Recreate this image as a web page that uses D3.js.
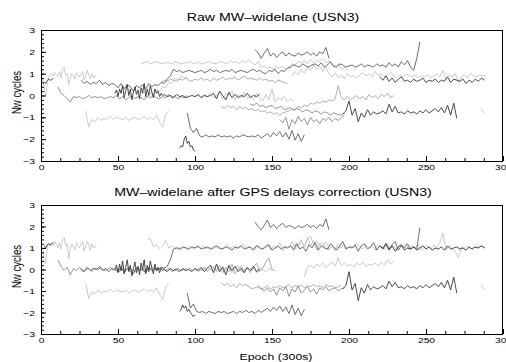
<!DOCTYPE html>
<html>
<head>
<meta charset="utf-8">
<script src="https://cdn.jsdelivr.net/npm/d3@7"></script>
<style>
  body { margin: 0; background: #fff; }
  svg { display: block; font-family: "Liberation Sans", Arial, Helvetica, sans-serif; }
</style>
</head>
<body>
<svg id="chart" width="506" height="362"></svg>
<script>
// ---------- axis ticks ----------
const epochTicks = [0, 50, 100, 150, 200, 250, 300];
const cycleTicks = [-3, -2, -1, 0, 1, 2, 3];

// ---------- raw MW-widelane passes (values every `step` epochs from `start`) ----------
const rawA = [0.62, 0.55, 0.68, 0.75, 0.7, 0.72, 0.8];
const rawB = [0.75, 0.35, -0.05, 0.5, 0.85, 0.95, 1.0, 0.9, 1.05, 0.95, 0.85, 1.1, 0.8, 1.2, 1.3, 0.95, 1.0, 0.5,
  0.8, 1.0, 0.9, 0.75, 1.05, 0.95, 0.85, 1.0, 1.1, 0.7, 0.9, 1.15, 0.95, 0.75, 1.0, 0.8, 0.9, 0.85];
const rawC = [0.4, 0.1, 0.0, -0.15, -0.3, -0.05, -0.1, -0.05, -0.15, -0.1, 0.0, -0.1, -0.05, -0.1, -0.05, -0.15,
  -0.1, -0.05, -0.1, 0.0, -0.15, -0.05, -0.2, -0.1, 0.0, -0.15, -0.05, -0.1, -0.2, -0.05, -0.1, 0.0, -0.1, -0.15,
  -0.05, -0.1, 0.05, -0.1, -0.05, -0.15, -0.05, -0.1, 0.0];
const rawD = [0.7, 0.55, 0.65, 0.5, 0.6, 0.55, 0.7, 0.5, 0.6, 0.45, 0.55, 0.5,
  0.35, 0.55, 0.3, 0.5, 0.4, 0.2, 0.45, 0.35, 0.5, 0.3, 0.55, 0.4, 0.5, 0.45, 0.6, 0.55, 0.75, 0.9, 1.2, 1.1,
  1.15, 1.05, 1.1, 1.15, 1.1, 1.05, 1.1, 1.15, 1.05, 1.1, 1.2, 1.1, 1.15, 1.05, 1.1, 1.15, 1.1, 1.2, 1.05, 1.1,
  1.15, 1.1, 1.05, 1.15, 1.2, 1.1, 1.15, 1.05, 1.0, 1.15, 1.1, 1.2, 1.0, 1.15, 1.1, 1.25,
  1.3, 1.4, 1.35, 1.3, 1.45, 1.35, 1.3, 1.4, 1.45, 1.35, 1.5, 1.3, 1.4, 1.55, 1.35, 1.3, 1.45, 1.4, 1.3, 1.35,
  1.4, 1.3, 1.35, 1.45, 1.3, 1.4, 1.35, 1.3, 1.45, 1.35, 1.4, 1.3, 1.5, 1.35, 1.45, 1.3, 1.55, 1.4, 1.6, 1.3,
  1.15, 1.7, 2.45];
const rawE = [0.1, 0.25, -0.05, 0.3, 0.1, 0.45, -0.1, 0.2, 0.5, 0.0, 0.3, -0.2, 0.15, 0.4, 0.05, 0.25, -0.15,
  0.35, 0.1, 0.55, -0.05, 0.3, 0.0, 0.45, 0.15, -0.1, 0.3, 0.1, 0.2, -0.05, 0.1, 0.0, 0.05];
const rawE2 = [0.05, -0.05, 0.0, -0.1, 0.05, -0.05, 0.0, -0.1, -0.05, 0.0, -0.05, 0.05, -0.1, 0.0, -0.05, 0.0,
  0.1, -0.15, 0.2, 0.0, -0.2, 0.15, -0.1, 0.05, -0.1, 0.0, -0.05, 0.1, -0.1, 0.0, -0.05, 0.05];
const rawF = [1.45, 1.5, 1.55, 1.45, 1.5, 1.55, 1.5, 1.45, 1.5, 1.5, 1.45, 1.55, 1.5, 1.45, 1.5, 1.5, 1.55, 1.45,
  1.5, 1.5, 1.45, 1.5, 1.55, 1.5, 1.45, 1.5, 1.55, 1.5, 1.45, 1.6, 1.5, 1.55, 1.45, 1.6, 1.5, 1.65, 1.5, 1.4,
  1.55, 1.3, 1.35, 1.25, 1.3, 1.2, 1.3, 1.25, 1.35, 1.2, 1.3, 1.45, 1.4, 1.55, 1.5, 1.6, 1.45, 1.65, 1.5, 1.6,
  1.55, 1.7, 1.5, 1.6, 1.4, 1.3, 1.45, 1.2, 1.3, 1.15];
const rawG = [0.6, 0.7, 0.65, 0.75, 0.7, 0.65, 0.75, 0.7, 0.8, 0.7, 0.65, 0.75, 0.7, 0.8, 0.7, 0.75, 0.65, 0.8,
  0.7, 0.75, 0.85, 0.7, 0.8, 0.75, 0.85, 0.7, 0.8, 0.9, 0.75, 0.8, 0.75, 0.7, 0.8, 0.7, 0.75, 0.65, 0.7, 0.6,
  0.7, 0.65, 0.6, 0.55];
const rawH = [-0.05, 0.0, -0.1, 0.05, -0.05, 0.1, -0.1, 0.0, 0.15, -0.15, 0.1, 0.0, 0.2, -0.2, 0.05, -0.1, 0.15,
  -0.15, 0.0, -0.2, 0.1, -0.1, -0.25, 0.05, -0.2, 0.3, -0.3, -0.1, -0.2, -0.05, -0.3, -0.15, -0.25];
const rawI = [-0.7, -1.45, -1.1, -1.2, -1.0, -1.15, -1.05, -1.1, -0.95, -1.1, -1.0, -1.05, -1.1, -1.0, -1.15,
  -1.05, -1.0, -1.1, -1.05, -0.95, -1.1, -1.0, -1.1, -0.9, -1.2, -1.45, -0.85, -0.7];
const rawJ = [-2.4, -2.3, -2.35, -2.0, -1.85, -2.2, -2.1, -2.35, -2.3, -2.5, -2.55];
const rawK = [-0.8, -1.5, -1.7, -1.5, -1.85, -1.9, -1.8, -1.9, -1.85, -1.9, -1.8, -1.9, -1.85, -1.9, -1.85, -1.95,
  -1.85, -1.9, -1.8, -1.85, -1.9, -1.85, -1.9, -1.8, -1.95, -1.85, -1.75, -1.9, -1.7, -1.85, -1.65, -1.9, -1.7,
  -2.0, -1.6, -2.05, -1.75, -2.1, -1.8];
const rawL = [2.1, 1.95, 1.7, 1.95, 2.15, 1.8, 1.95, 1.75, 1.9, 2.0, 1.8, 1.95, 1.85, 1.8, 1.95, 1.85, 1.9, 2.0,
  1.85, 1.95, 1.8, 2.0, 1.9, 2.2, 1.7];
const rawM = [-0.85, -0.7, -0.25, -0.9, -0.6, -1.2, -0.8, -1.0, -0.65, -0.9, -0.75, -0.85, -0.8, -0.7, -0.85,
  -0.4, -0.75, -0.5, -0.8, -0.75, -0.85, -0.7, -0.8, -0.75, -0.85, -0.7, -0.8, -0.65, -0.8, -0.7, -0.6, -0.75,
  -0.55, -0.8, -0.45, -0.9, -0.35, -1.05];
const rawN = [-1.1, -1.25, -1.0, -1.55, -1.1, -1.3, -0.95, -1.2, -1.05, -1.35, -1.0, -1.2, -1.1, -1.3, -1.05,
  -1.15, -1.0, -1.2, -1.05, -1.15, -1.0, -0.9];
const rawN2 = [-0.4, -0.45, -0.35, -0.5, -0.45, -0.55, -0.5, -0.45, -0.6, -0.55, -0.5, -0.65, -0.6, -0.55, -0.7,
  -0.6, -0.65, -0.75, -0.65, -0.7, -0.8, -0.7, -0.75, -0.85, -0.75, -0.8, -0.9, -0.8, -0.85, -0.9, -0.85];
const rawO = [-0.5, -0.6, -0.45, -0.55, -0.5, -0.65, -0.5, -0.6, -0.55, -0.65, -0.6, -0.7, -0.65, -0.75, -0.7,
  -0.8, -0.75, -0.85, -0.8, -0.9, -0.8, -0.75, -0.7, -0.6, -0.65, -0.5, -0.55, -0.45, -0.5, -0.35, -0.4, -0.3,
  -0.35, -0.25, -0.3, -0.2, -0.25, -0.15, 0.45, -0.1, -0.2, -0.05, -0.2, -0.1, 0.0, -0.15, -0.05, -0.2, 0.05,
  -0.1, 0.0, -0.15, 0.05, -0.05, 0.1, -0.1, 0.0];
const rawP = [0.9, 1.1, 0.95, 1.2, 1.0, 1.3, 1.15, 1.4, 1.2, 1.35, 1.1, 1.3, 1.0, 0.85, 1.05, 0.8, 0.95, 0.75,
  1.0, 0.85, 0.9, 0.8, 0.95, 1.05, 0.9, 1.0, 0.85, 1.1, 0.9, 1.0, 0.85, 0.95, 1.05, 0.9, 0.8, 0.95, 0.85, 1.0,
  0.9, 0.85, 0.95, 0.8, 0.9, 0.85, 0.95, 0.8, 0.9, 1.0, 0.85, 1.15, 0.75, 0.95, 0.85, 1.0, 0.6, 0.85, 0.95, 0.8,
  1.0, 0.9, 0.85, 0.95, 0.9, 0.9];
const rawQ = [0.85, 0.7, 0.9, 0.65, 0.8, 0.6, 0.75, 0.85, 0.65, 0.7, 0.6, 0.75, 0.65, 0.7, 0.8, 0.6, 0.7, 0.65,
  0.75, 0.6, 0.7, 0.65, 0.85, 0.6, 0.75, 0.7, 0.65, 0.75, 0.55, 0.7, 0.6, 0.75, 0.65, 0.8, 0.7];
const rawS = [-0.6, -0.75, -0.8];
const rawT = [-0.1, 0.0, 0.1, 0.05, 0.25, 0.2, 0.4, 0.35, 0.6, 0.55, 0.8, 0.7, 0.9, 0.8, 0.85];

// [values, start epoch, step, tone]
const rawPasses = [
  [rawA, 2, 1, "dark"], [rawB, 1, 1, "light"], [rawC, 11, 2, "mid"], [rawD, 26, 2, "darkgray"],
  [rawE, 48, 1, "dark"], [rawE2, 80, 2, "dark"], [rawF, 65, 2, "light"], [rawG, 78, 2, "lightmid"],
  [rawH, 100, 2, "light"], [rawI, 29, 2, "light"], [rawJ, 90, 1, "dark"], [rawK, 95, 2, "darkgray"],
  [rawL, 139, 2, "darkgray"], [rawM, 196, 2, "dark"], [rawN, 155, 2, "mid"], [rawN2, 136, 2, "mid"],
  [rawO, 117, 2, "lightmid"], [rawP, 163, 2, "light"], [rawQ, 220, 2, "dark"], [rawS, 286, 1, "light"],
  [rawT, 67, 2, "light"]
];

// ---------- after GPS delays correction ----------
const corA = [1.1, 1.0, 1.15, 1.2, 1.15, 1.2, 1.25];
const corB = [1.05, 0.5, 0.25, 1.0, 1.2, 1.1, 1.25, 1.1, 1.3, 1.15, 1.0, 1.25, 0.95, 1.4, 1.5, 1.1, 1.2, 0.5,
  0.95, 1.2, 1.05, 0.9, 1.25, 1.1, 1.0, 1.2, 1.3, 0.85, 1.05, 1.3, 1.15, 0.9, 1.2, 1.0, 1.1, 1.0];
const corC = [0.45, 0.15, -0.05, 0.1, -0.25, 0.05, -0.05, 0.1, -0.1, 0.0, 0.05, -0.1, 0.05, 0.0, 0.1, -0.05, 0.0,
  0.1, -0.05, 0.05, -0.1, 0.05, -0.05, 0.1, 0.0, -0.1, 0.05, 0.0, -0.1, 0.05, 0.0, 0.1, -0.05, 0.0, 0.1, -0.05,
  0.05, -0.1, 0.0, 0.05, -0.05, 0.0, 0.05];
const corD = [0.05, -0.1, 0.1, -0.05, 0.05, 0.0, 0.15, -0.05, 0.05, -0.1, 0.05, 0.0, -0.1, 0.1, -0.15, 0.05,
  -0.05, -0.2, 0.1, -0.05, 0.05, -0.15, 0.1, -0.05, 0.05, 0.0, 0.1, 0.05, 0.15,
  0.45, 0.95, 1.0,
  0.95, 1.05, 1.0, 0.95, 1.05, 1.0, 1.1, 0.95, 1.0, 1.05, 0.95, 1.0, 1.1, 1.0, 0.95, 1.05, 1.0, 0.9, 1.05, 1.0,
  1.1, 0.95, 1.0, 1.05, 0.9, 1.1, 1.0, 0.95, 1.05, 1.15, 0.9, 1.0, 1.1, 0.95, 1.05, 1.0,
  1.1, 0.9, 1.2, 0.95, 1.05, 0.85, 1.15, 1.0, 1.25, 0.9, 1.1, 1.0, 0.95, 1.2, 1.05, 0.9, 1.1, 1.3, 0.95, 1.05,
  1.0, 1.15, 0.85, 1.1, 1.2, 0.95, 1.05, 1.25, 0.9, 1.1, 1.0, 1.2, 0.95, 1.15, 1.3, 0.9, 1.1, 1.0, 1.2, 0.95,
  1.05, 0.95, 1.95];
const corE = [0.0, 0.2, -0.15, 0.25, -0.05, 0.4, -0.2, 0.1, 0.45, -0.1, 0.2, -0.3, 0.05, 0.35, -0.15, 0.15, -0.25,
  0.3, 0.0, 0.45, -0.2, 0.2, -0.1, 0.4, 0.05, -0.2, 0.25, -0.05, 0.1, -0.15, 0.05, -0.05, 0.0];
const corE2 = [0.0, -0.1, 0.05, -0.05, 0.0, -0.1, 0.05, -0.05, 0.0, -0.1, 0.05, -0.05, 0.1, -0.1, 0.05, 0.2,
  -0.15, 0.25, -0.1, 0.1, -0.25, 0.2, -0.05, 0.15, -0.1, 0.05, -0.15, 0.1, -0.05, 0.15, -0.1, 0.0];
const corF = [1.4, 1.45, 1.05, 1.15, 0.95, 1.1, 1.35, 1.0, 1.1, 1.0, 1.05, 0.95, 1.05, 1.0, 1.1, 0.95, 1.05, 1.0,
  1.1, 0.95, 1.05, 1.0, 1.1, 1.0, 0.95, 1.05, 1.15, 1.0, 1.1, 0.95, 1.05, 1.2, 1.0, 1.1, 0.9, 1.05, 1.15, 0.95,
  1.05, 1.2, 0.9, 1.1, 1.0, 1.25, 0.85, 1.1, 1.0, 1.3, 0.95, 1.15, 1.4, 1.0, 1.5, 1.1, 1.35, 0.9, 1.2, 1.05,
  1.3, 0.95, 1.1, 0.85, 1.05, 1.0, 1.15, 0.95];
const corG = [0.1, -0.05, 0.05, -0.1, 0.0, 0.1, -0.1, 0.05, 0.15, -0.05, 0.2, -0.15, 0.1, -0.1, 0.25, -0.2, 0.0,
  0.15, -0.1, 0.05, -0.15, 0.1, 0.3, -0.1, 0.05, 0.35, 0.55, 0.0, -0.05];
const corH = [-0.1, 0.05, -0.05, 0.0, 0.1, -0.05, 0.05, -0.1, 0.0, 0.15, -0.05, 0.1, -0.15, 0.05, 0.2, -0.1, 0.0,
  0.1, -0.05, 0.05, -0.15, 0.1, 0.0, -0.1, 0.05, -0.05];
const corI = [-0.65, -1.35, -1.05, -1.15, -0.95, -1.1, -1.0, -1.05, -0.9, -1.05, -0.95, -1.0, -1.05, -0.95, -1.1,
  -1.0, -0.95, -1.05, -1.0, -0.9, -1.05, -0.95, -1.05, -0.85, -1.15, -1.4, -0.8, -0.65];
const corJ = [-1.95, -1.85, -1.65, -1.8, -1.7, -1.95, -1.85, -2.0, -2.1, -2.2, -2.1];
const corK = [-1.1, -1.8, -1.6, -1.95, -2.0, -1.95, -2.05, -1.95, -2.0, -2.05, -1.95, -2.0, -1.95, -2.05, -2.0,
  -1.95, -2.05, -1.95, -2.0, -1.9, -2.0, -1.95, -2.05, -1.9, -2.0, -1.9, -1.8, -1.95, -1.75, -1.9, -1.7, -1.95,
  -1.75, -2.05, -1.65, -2.1, -1.8, -2.15, -1.85];
const corL = [2.2, 2.0, 1.85, 2.05, 2.3, 1.95, 2.1, 1.9, 2.05, 2.15, 1.95, 2.05, 2.0, 1.9, 2.05, 1.95, 2.0, 2.1,
  1.95, 2.05, 1.9, 2.1, 2.0, 2.35, 1.85];
const corM = [-0.9, -0.75, -0.1, -0.95, -0.65, -1.45, -0.85, -1.1, -0.7, -0.95, -0.8, -0.9, -0.85, -0.75, -0.9,
  -0.55, -0.8, -0.6, -0.85, -0.8, -0.9, -0.75, -0.85, -0.8, -0.9, -0.75, -0.85, -0.7, -0.85, -0.75, -0.65, -0.8,
  -0.6, -0.85, -0.5, -0.95, -0.35, -1.1];
const corN = [-0.75, -0.9, -1.0, -0.85, -1.05, -0.9, -1.2, -0.85, -1.0, -0.8, -1.25, -0.9, -1.05, -0.75, -1.1,
  -0.95, -0.8, -1.05, -0.9, -1.15, -0.85, -0.95, -0.8, -1.0, -0.9, -0.85, -1.0, -0.9, -0.85];
const corN2 = [-0.6, -0.75, -0.65, -0.8, -0.7, -0.85, -0.65, -0.75, -0.7, -0.8, -0.9, -0.85, -0.8, -0.9, -0.85,
  -0.75, -0.9, -0.8, -0.85, -0.75, -0.85, -0.8, -0.7, -0.85, -0.75, -0.8, -0.7, -0.85, -0.75, -0.8, -0.7, -0.8,
  -0.75, -0.85, -0.7, -0.8, -0.75, -0.85, -0.8, -0.75];
const corO = [-0.35, 0.1, 0.2, 0.05, 0.25, 0.15, 0.3, 0.1, 0.2, 0.35, 0.15, 0.55, 0.2, 0.3, 0.15, 0.25, 0.1, 0.3,
  0.2, 0.35, 0.15, 0.25, 0.2, 0.3, 0.15, 0.35, 0.2, 0.45, 0.25, 0.4];
const corP = [1.0, 1.2, 1.05, 1.3, 1.1, 1.4, 1.55, 1.2, 1.35, 1.1, 1.25, 1.0, 0.9, 1.1, 0.95, 1.2, 1.05, 1.15,
  0.95, 1.1, 1.0, 1.2, 1.05, 0.95, 1.15, 1.0, 1.1, 0.9, 1.15, 1.05, 0.95, 1.2, 1.0, 1.1, 0.9, 1.15, 1.05, 1.2,
  0.95, 1.1, 1.0, 1.15, 0.9, 1.05, 1.1, 0.95, 1.15, 1.0, 1.25, 1.7, 0.9, 1.1, 1.0, 0.85, 0.55, 1.05, 1.0, 1.1,
  0.95, 1.05, 1.0, 1.1, 1.05, 1.0];
const corQ = [1.1, 0.95, 1.2, 0.9, 1.1, 0.85, 1.05, 1.15, 0.9, 1.0, 0.95, 1.05, 0.9, 1.0, 1.1, 0.95, 1.05, 0.9,
  1.0, 0.95, 1.05, 0.9, 1.1, 0.95, 1.0, 1.05, 0.95, 1.0, 0.9, 1.05, 0.95, 1.05, 1.0, 1.1, 1.0];
const corS = [-0.7, -0.85, -0.95];

const corPasses = [
  [corA, 2, 1, "dark"], [corB, 1, 1, "light"], [corC, 11, 2, "mid"], [corD, 26, 2, "darkgray"],
  [corE, 48, 1, "dark"], [corE2, 80, 2, "dark"], [corF, 69, 2, "light"], [corG, 96, 2, "lightmid"],
  [corH, 100, 2, "light"], [corI, 29, 2, "light"], [corJ, 90, 1, "dark"], [corK, 95, 2, "darkgray"],
  [corL, 139, 2, "darkgray"], [corM, 196, 2, "dark"], [corN, 141, 2, "mid"], [corN2, 117, 2, "lightmid"],
  [corO, 171, 2, "light"], [corP, 163, 2, "light"], [corQ, 220, 2, "dark"], [corS, 286, 1, "light"]
];

// ---------- drawing ----------
const tone = { light: "#c4c4c4", lightmid: "#a6a6a6", mid: "#888888", darkgray: "#5c5c5c", dark: "#363636" };
const toneOrder = ["light", "lightmid", "mid", "darkgray", "dark"];
const stretch = 1.29; // the original figure is widened horizontally

const svg = d3.select("#chart");
const x = d3.scaleLinear().domain([0, 300]).range([41, 503]);

drawPanel(rawPasses, "Raw MW\u2013widelane (USN3)", 30, 161, 21);
drawPanel(corPasses, "MW\u2013widelane after GPS delays correction (USN3)", 205, 334, 196);

svg.append("text")
  .attr("transform", `translate(276,359.5) scale(${stretch},1)`)
  .attr("text-anchor", "middle")
  .attr("font-size", 9.5)
  .text("Epoch (300s)");

function drawPanel(passes, title, top, bottom, titleY) {
  const y = d3.scaleLinear().domain([-3, 3]).range([bottom, top]);
  const g = svg.append("g");
  const line = d3.line().x((d) => x(d[0])).y((d) => y(d[1]));

  const ordered = passes.slice().sort((a, b) => toneOrder.indexOf(a[3]) - toneOrder.indexOf(b[3]));
  g.append("g")
    .selectAll("path")
    .data(ordered)
    .join("path")
    .attr("fill", "none")
    .attr("stroke", (d) => tone[d[3]])
    .attr("stroke-width", 0.9)
    .attr("stroke-linejoin", "round")
    .attr("d", (d) => line(d[0].map((v, i) => [d[1] + i * d[2], v])));

  // minor ticks
  g.append("g")
    .attr("transform", `translate(0,${bottom})`)
    .call(d3.axisBottom(x).tickValues(d3.range(0, 301, 12.5)).tickSizeInner(-3).tickSizeOuter(0).tickFormat(""))
    .call((a) => a.select(".domain").remove());
  g.append("g")
    .attr("transform", `translate(${x(0)},0)`)
    .call(d3.axisLeft(y).tickValues(d3.range(-30, 31, 2).map((d) => d / 10)).tickSizeInner(-3).tickSizeOuter(0).tickFormat(""))
    .call((a) => a.select(".domain").remove());

  // major ticks + labels
  g.append("g")
    .attr("transform", `translate(0,${bottom})`)
    .call(d3.axisBottom(x).tickValues(epochTicks).tickSizeInner(-5).tickSizeOuter(0).tickPadding(3.5).tickFormat(d3.format("d")))
    .call((a) => a.select(".domain").remove())
    .call((a) => a.selectAll("text")
      .attr("font-size", 8)
      .attr("font-family", "Liberation Sans, Arial, sans-serif")
      .attr("fill", "#000")
      .attr("transform", `scale(${stretch},1)`));
  g.append("g")
    .attr("transform", `translate(${x(0)},0)`)
    .call(d3.axisLeft(y).tickValues(cycleTicks).tickSizeInner(-5).tickSizeOuter(0).tickFormat(d3.format("d")))
    .call((a) => a.select(".domain").remove())
    .call((a) => a.selectAll("text")
      .attr("x", -6 / stretch)
      .attr("font-size", 8)
      .attr("font-family", "Liberation Sans, Arial, sans-serif")
      .attr("fill", "#000")
      .attr("transform", `scale(${stretch},1)`));

  // frame
  g.append("rect")
    .attr("x", x(0) + 0.5)
    .attr("y", y(3) + 0.5)
    .attr("width", x(300) - x(0) - 1)
    .attr("height", y(-3) - y(3))
    .attr("fill", "none")
    .attr("stroke", "#000")
    .attr("stroke-width", 1);

  // titles
  g.append("text")
    .attr("transform", `translate(273,${titleY}) scale(${stretch},1)`)
    .attr("text-anchor", "middle")
    .attr("font-size", 11)
    .text(title);
  g.append("text")
    .attr("transform", `translate(21,${(top + bottom) / 2 - 3}) scale(${stretch},1) rotate(-90)`)
    .attr("text-anchor", "middle")
    .attr("font-size", 9.6)
    .text("Nw cycles");
}
</script>
</body>
</html>
